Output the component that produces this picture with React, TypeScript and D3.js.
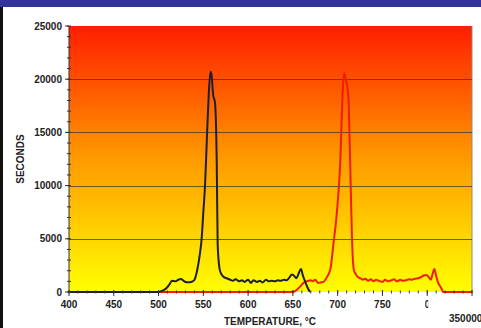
import * as d3 from "d3";

// thermogram: seconds spent per temperature bin
const blackTemps = [400, 500, 505, 509, 512, 515, 519, 522, 525, 528, 531, 535, 538, 540, 543, 546, 548, 550, 552, 554, 556, 558, 559, 561, 563, 565, 566, 568, 570, 573, 576, 580, 583, 586, 590, 593, 596, 600, 603, 606, 610, 613, 616, 620, 623, 626, 630, 633, 636, 640, 643, 646, 649, 651, 654, 656, 659, 661, 664, 667, 669];
const blackSeconds = [0, 0, 150, 380, 700, 1050, 1000, 1150, 1220, 1050, 910, 920, 1000, 1130, 2000, 3500, 4900, 7500, 10200, 14500, 18500, 20700, 20500, 18500, 17800, 12000, 4500, 2250, 1700, 1400, 1290, 1150, 1050, 1200, 1000, 1100, 950, 1150, 850, 1100, 950, 1050, 900, 1150, 1000, 1050, 1000, 1100, 1050, 1150, 1100, 1350, 1650, 1550, 1300, 1650, 2150, 1600, 900, 300, 0];

const redTemps = [400, 650, 655, 658, 661, 664, 667, 670, 672, 675, 678, 681, 684, 688, 692, 695, 699, 703, 705, 707, 709, 712, 714, 716, 718, 720, 722, 725, 728, 731, 734, 737, 740, 743, 746, 750, 753, 756, 760, 763, 766, 770, 773, 776, 780, 783, 786, 790, 793, 796, 799, 802, 804, 806, 808, 810, 812, 814, 816, 818, 850];
const redSeconds = [0, 0, 250, 500, 800, 970, 1050, 1100, 1000, 1150, 850, 900, 950, 1400, 2200, 4300, 7400, 12400, 17500, 20600, 20000, 18300, 12000, 5000, 2100, 1700, 1450, 1300, 1150, 1250, 1050, 1200, 1000, 1150, 1050, 950, 1150, 1000, 1100, 1200, 1000, 1150, 1050, 1100, 1200, 1150, 1250, 1300, 1400, 1550, 1600, 1350, 1150, 1700, 2150, 1500, 900, 600, 300, 0, 0];

// 850 sits at the axis end but its label is not shown in the original
const xTicks = [400, 450, 500, 550, 600, 650, 700, 750, 800, 850];
const xLabels = [400, 450, 500, 550, 600, 650, 700, 750, 800];
const yTicks = [0, 5000, 10000, 15000, 20000, 25000];

const W = 481;
const H = 328;
const plot = { left: 69, right: 472, top: 26, bottom: 292 };
const FONT = "'Liberation Sans', Arial, sans-serif";

export default function App() {
  const x = d3.scaleLinear().domain([400, 850]).range([plot.left, plot.right]);
  const y = d3.scaleLinear().domain([0, 25000]).range([plot.bottom, plot.top]);

  const line = d3
    .line<[number, number]>()
    .x((d) => x(d[0]))
    .y((d) => y(d[1]))
    .curve(d3.curveMonotoneX);

  const blackPath = line(blackTemps.map((t, i) => [t, blackSeconds[i]] as [number, number])) || "";
  const redPath = line(redTemps.map((t, i) => [t, redSeconds[i]] as [number, number])) || "";

  const minorY = d3.range(0, 25001, 1000);
  const minorX = d3.range(400, 851, 10);

  return (
    <svg
      width={W}
      height={H}
      style={{ position: "absolute", left: 0, top: 0, background: "#fff" }}
      fontFamily={FONT}
    >
      <defs>
        <linearGradient id="bg" x1="0" y1="0" x2="0" y2="1">
          <stop offset="0%" stopColor="#ff1e00" />
          <stop offset="50%" stopColor="#ff9a00" />
          <stop offset="100%" stopColor="#ffff00" />
        </linearGradient>
        <clipPath id="cut800">
          <rect x={x(800) - 2} y={295} width={3} height={14} />
        </clipPath>
      </defs>

      {/* frame */}
      <rect x={0} y={0} width={W} height={7} fill="#333399" />
      <rect x={0} y={7} width={3} height={H - 7} fill="#111" />

      {/* plot background */}
      <rect
        x={plot.left}
        y={plot.top}
        width={plot.right - plot.left}
        height={plot.bottom - plot.top}
        fill="url(#bg)"
      />
      <line x1={plot.right} x2={plot.right} y1={plot.top} y2={plot.bottom} stroke="#8a8a8a" />

      {/* gridlines */}
      {yTicks.slice(1, -1).map((t) => (
        <line
          key={"g" + t}
          x1={plot.left}
          x2={plot.right}
          y1={Math.round(y(t)) + 0.5}
          y2={Math.round(y(t)) + 0.5}
          stroke="#3a3a2a"
          strokeOpacity={0.75}
        />
      ))}

      {/* series */}
      <path d={redPath} fill="none" stroke="#f21c00" strokeWidth={2} strokeLinejoin="round" />
      <path d={blackPath} fill="none" stroke="#1e1e38" strokeWidth={2} strokeLinejoin="round" />

      {/* axes */}
      <line x1={plot.left} x2={plot.left} y1={plot.top} y2={plot.bottom} stroke="#333" />
      {minorY.map((t) => (
        <line key={"my" + t} x1={plot.left - 2} x2={plot.left + 2} y1={y(t)} y2={y(t)} stroke="#333" />
      ))}
      {yTicks.map((t) => (
        <g key={"y" + t}>
          <line x1={plot.left - 4} x2={plot.left} y1={y(t)} y2={y(t)} stroke="#333" />
          <text
            x={62}
            y={y(t) + 3.5}
            textAnchor="end"
            fontSize={10}
            fontWeight="bold"
            fill="#222"
          >
            {t}
          </text>
        </g>
      ))}

      {minorX.map((t) => (
        <line key={"mx" + t} x1={x(t)} x2={x(t)} y1={plot.bottom - 1.5} y2={plot.bottom + 1.5} stroke="#333" />
      ))}
      {xTicks.map((t) => (
        <line key={"x" + t} x1={x(t)} x2={x(t)} y1={plot.bottom - 2} y2={plot.bottom + 4} stroke="#333" />
      ))}
      {xLabels.map((t) => (
        <text
          key={"xl" + t}
          x={x(t)}
          y={308}
          textAnchor="middle"
          fontSize={10}
          fontWeight="bold"
          fill="#222"
          clipPath={t === 800 ? "url(#cut800)" : undefined}
        >
          {t}
        </text>
      ))}

      {/* titles */}
      <text x={270} y={325} textAnchor="middle" fontSize={10} fontWeight="bold" fill="#222">
        TEMPERATURE, °C
      </text>
      <text
        transform="translate(24,159) rotate(-90)"
        textAnchor="middle"
        fontSize={10}
        fontWeight="bold"
        fill="#222"
      >
        SECONDS
      </text>
      <text x={449} y={322} fontSize={10} fontWeight="bold" fill="#222">
        350000
      </text>
    </svg>
  );
}
